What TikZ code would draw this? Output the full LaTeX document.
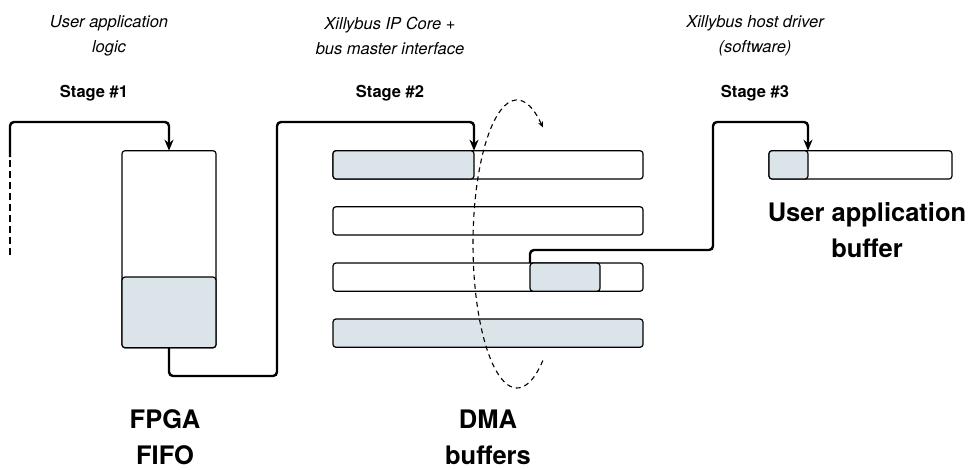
\documentclass[tikz,border=0pt]{standalone}
\usepackage{fontspec}
\setmainfont{TeX Gyre Heros}
\usetikzlibrary{arrows.meta}

\begin{document}
\begin{tikzpicture}[x=1pt,y=-1pt,
  box/.style={draw,line width=1.2pt,rounded corners=3pt,inner sep=0pt,outer sep=0pt,
    anchor=north west,fill=white,minimum height=28.3pt},
  filled/.style={box,fill=bufgrey},
  link/.style={line width=2.4pt,rounded corners=4pt,-{Stealth[length=11pt,width=9pt]}},
  feedline/.style={line width=2.6pt,dash pattern=on 7pt off 4pt},
  loopline/.style={line width=1.1pt,dash pattern=on 5pt off 4pt,-{Stealth[length=6pt,width=5pt]}},
  role/.style={font=\fontsize{16.5}{25}\selectfont\itshape,align=center},
  stagelabel/.style={font=\fontsize{16.5}{20}\selectfont\bfseries},
  title/.style={font=\fontsize{25.5}{36}\selectfont\bfseries,align=center}]
% Define colors
\definecolor{bufgrey}{RGB}{218,228,233}

\useasboundingbox (0,0) rectangle (970,469);

% Draw FPGA FIFO
\node[box,minimum width=94pt,minimum height=197pt] (fifo) at (122,150.7) {};
\node[filled,minimum width=94pt,minimum height=70.7pt] (fifofill) at (122,277) {};

% Draw DMA buffers
\node[box,minimum width=310pt] (bufA) at (333,150.7) {};
\node[filled,minimum width=141pt] (bufAfill) at (333,150.7) {};
\node[box,minimum width=310pt] (bufB) at (333,206.7) {};
\node[box,minimum width=310pt] (bufC) at (333,263) {};
\node[filled,minimum width=70pt] (bufCfill) at (530,263) {};
\node[filled,minimum width=310pt] (bufD) at (333,319) {};

% Draw user application buffer
\node[box,minimum width=183pt] (ubuf) at (769,150.7) {};
\node[filled,minimum width=39pt] (ubuffill) at (769,150.7) {};

% Draw data path
\coordinate (feed) at (10,255);
\coordinate (feedtop) at (10,157);
\coordinate (riser) at (277,376);
\coordinate (riser2) at (713,250);
\draw[feedline] (feed) -- (feedtop);
\draw[link] (feedtop) |- (fifo.north |- 0,122) -- (fifo.north);
\draw[link] (fifo.south) |- (riser) |- (bufAfill.north east |- 0,122) -- (bufAfill.north east);
\draw[link] (bufCfill.north west) |- (riser2) |- (ubuffill.north east |- 0,122) -- (ubuffill.north east);

% Draw ring of buffers
\draw[loopline] plot[domain=54:306,samples=90] ({517+44*cos(\x)},{244+144*sin(\x)});

% Add labels
\node[role] (role1) at (109,35.5) {User application\\logic};
\node[role] (role2) at (390,35.5) {Xillybus IP Core +\\bus master interface};
\node[role] (role3) at (755,35.5) {Xillybus host driver\\(software)};
\node[stagelabel] (stage1) at (94,93) {Stage \#1};
\node[stagelabel] (stage2) at (390,93) {Stage \#2};
\node[stagelabel] (stage3) at (755,93) {Stage \#3};
\node[title] (fifotitle) at (165,437) {FPGA\\FIFO};
\node[title] (dmatitle) at (488,437) {DMA\\buffers};
\node[title] (ubuftitle) at (867,230) {User application\\buffer};
\end{tikzpicture}
\end{document}
